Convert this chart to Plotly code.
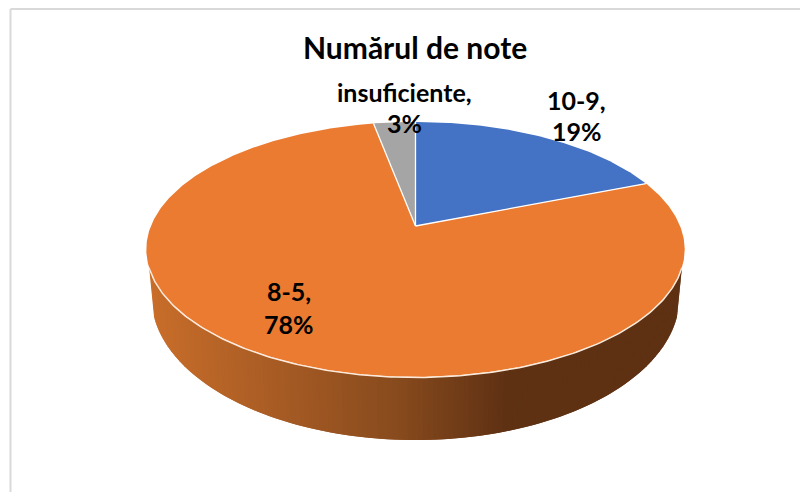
import numpy as np
import plotly.graph_objects as go

# --- data ---
title = "Numărul de note"
categories = ["10-9", "8-5", "insuficiente"]
values = [19, 78, 3]
slice_colors = ["#4472C4", "#EB7B30", "#A5A5A5"]

# --- projection of the tilted disc onto the page (pixel-scaled axes) ---
W, H = 800, 492
AX, AY = 415.5, 226.0          # apex of the slices
A, B, K = 123.2, 264.6, 0.184  # perspective circle
TOP = (415.5, 250.0, 269.0, 127.5)     # cx, cy, rx, ry of the upper rim
BOTTOM = (415.5, 297.0, 264.0, 143.0)  # same for the lower rim
WALL_STOPS = [(150, (201, 110, 43)), (400, (136, 75, 30)), (510, (95, 49, 19)), (690, (95, 49, 19))]
FONT = "Lato"


def project(deg):
    t = np.radians(deg)
    d = 1 + K * np.cos(t)
    return AX + B * np.sin(t) / d, AY - A * np.cos(t) / d


def rim(spec, t):
    cx, cy, rx, ry = spec
    return cx + rx * np.cos(t), cy + ry * np.sin(t)


def wall_color(x):
    xs = [s[0] for s in WALL_STOPS]
    return "rgb(%d,%d,%d)" % tuple(np.interp(x, xs, [s[1][i] for s in WALL_STOPS]) for i in range(3))


fig = go.Figure()

# side wall, painted as narrow strips running left to right
edges = np.radians(np.linspace(172, 8, 150))
for i in range(len(edges) - 1):
    t = np.linspace(edges[i], edges[min(i + 2, len(edges) - 1)], 4)
    x1, y1 = rim(TOP, t)
    x2, y2 = rim(BOTTOM, t)
    fig.add_trace(go.Scatter(
        x=np.r_[x1, x2[::-1], x1[0]], y=np.r_[y1, y2[::-1], y1[0]],
        mode="lines", fill="toself", fillcolor=wall_color(x1.mean()),
        line=dict(width=0), hoverinfo="skip", showlegend=False))

# top face slices
total = sum(values)
start = 0.0
spokes = []
for cat, v, c in zip(categories, values, slice_colors):
    end = start + v / total * 360
    th = np.linspace(start, end, max(int(v * 6), 24))
    px, py = project(th)
    fig.add_trace(go.Scatter(
        x=np.r_[AX, px, AX], y=np.r_[AY, py, AY],
        mode="lines", fill="toself", fillcolor=c, line=dict(width=0),
        name=cat, hoverinfo="skip", showlegend=False))
    spokes.append(start)
    start = end

# white separators between slices
sx, sy = [], []
for s in spokes:
    px, py = project(s)
    sx += [AX, float(px), None]
    sy += [AY, float(py), None]
fig.add_trace(go.Scatter(x=sx, y=sy, mode="lines", line=dict(color="white", width=1.3),
                         hoverinfo="skip", showlegend=False))

# light edge between the top face and the wall
t = np.radians(np.linspace(8, 172, 200))
ex, ey = rim(TOP, t)
fig.add_trace(go.Scatter(x=ex, y=ey, mode="lines", line=dict(color="#FBEBDD", width=1.5),
                         hoverinfo="skip", showlegend=False))

# labels
label_pos = {"10-9": (576.5, 100, 131), "8-5": (289, 291, 324), "insuficiente": (404, 92, 123)}
for cat, v in zip(categories, values):
    lx, y1, y2 = label_pos[cat]
    for txt, yy in ((f"{cat},", y1), (f"{v}%", y2)):
        fig.add_annotation(x=lx, y=yy, xref="x", yref="y", text=f"<b>{txt}</b>", showarrow=False,
                           font=dict(family=FONT, size=25, color="black"),
                           xanchor="center", yanchor="middle")
fig.add_annotation(x=415, y=46.5, xref="x", yref="y", text=f"<b>{title}</b>", showarrow=False,
                   font=dict(family=FONT, size=30, color="black"), xanchor="center", yanchor="middle")

# chart frame (top and left sides are in view)
fig.add_shape(type="line", x0=10.5, x1=W, y0=9, y1=9, xref="x", yref="y", line=dict(color="#D9D9D9", width=2))
fig.add_shape(type="line", x0=10.5, x1=10.5, y0=9, y1=H, xref="x", yref="y", line=dict(color="#D9D9D9", width=2))

fig.update_layout(
    width=W, height=H, margin=dict(l=0, r=0, t=0, b=0),
    paper_bgcolor="white", plot_bgcolor="white", showlegend=False,
    xaxis=dict(range=[0, W], visible=False, fixedrange=True),
    yaxis=dict(range=[H, 0], visible=False, fixedrange=True),
)
fig.write_html("out.html", config={"displayModeBar": False},
               post_script="document.body.style.margin='0';document.body.style.overflow='hidden';")
